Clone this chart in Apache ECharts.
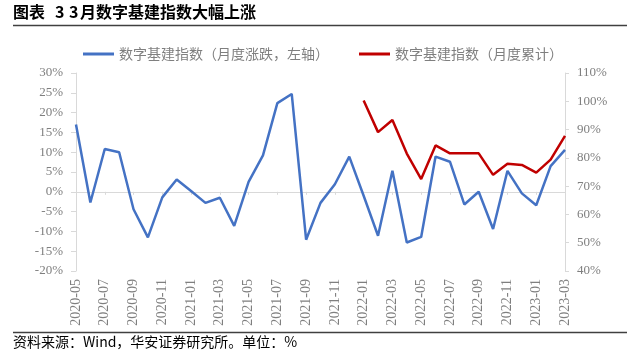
<!DOCTYPE html>
<html>
<head>
<meta charset="utf-8">
<script src="https://cdn.jsdelivr.net/npm/echarts@6/dist/echarts.min.js"></script>
<style>
html,body{margin:0;padding:0;background:#fff;}
#c{width:627px;height:358px;}
</style>
</head>
<body>
<div id="c"></div>
<script>
var categories = ['2020-05','2020-06','2020-07','2020-08','2020-09','2020-10','2020-11','2020-12',
  '2021-01','2021-02','2021-03','2021-04','2021-05','2021-06','2021-07','2021-08','2021-09','2021-10','2021-11','2021-12',
  '2022-01','2022-02','2022-03','2022-04','2022-05','2022-06','2022-07','2022-08','2022-09','2022-10','2022-11','2022-12',
  '2023-01','2023-02','2023-03'];
var monthlyChange = [17.0,-2.7,10.8,10.0,-4.4,-11.5,-1.4,3.1,
  0.2,-2.8,-1.5,-8.6,2.5,9.2,22.4,24.7,-12.1,-2.8,1.9,8.9,
  -1.0,-11.1,5.3,-12.8,-11.4,8.9,7.6,-3.2,0.0,-9.4,5.3,-0.4,
  -3.4,6.5,10.6];
var cumulative = [null,null,null,null,null,null,null,null,
  null,null,null,null,null,null,null,null,null,null,null,null,
  100.3,89.1,93.4,81.5,72.5,84.4,81.6,81.6,81.6,74.0,77.9,77.5,
  74.8,79.4,87.8];
var seriesNames = ['数字基建指数（月度涨跌，左轴）','数字基建指数（月度累计）'];

var chart = echarts.init(document.getElementById('c'), null, {renderer:'canvas'});
var serif = '"Liberation Serif","Times New Roman",serif';
var cjk = '"Noto Sans CJK SC",sans-serif';
var gray = '#7f7f7f';
var lineGray = '#d9d9d9';

chart.setOption({
  animation: false,
  backgroundColor: '#fff',
  grid: {left: 76, right: 62, top: 73, bottom: 87, containLabel: false},
  legend: {
    left: 78, top: 42,
    icon: 'rect', itemWidth: 31, itemHeight: 3, itemGap: 30,
    textStyle: {fontFamily: cjk, fontSize: 14, color: '#7f7f7f'},
    data: seriesNames
  },
  xAxis: [{
    type: 'category', data: categories, boundaryGap: false,
    axisLine: {onZero: true, onZeroAxisIndex: 0, lineStyle: {color: lineGray, width: 1}},
    axisTick: {show: true, interval: 1, length: 3, lineStyle: {color: lineGray}},
    axisLabel: {show: false},
    splitLine: {show: false}
  },{
    type: 'category', data: categories, boundaryGap: false, position: 'bottom',
    axisLine: {show: false, onZero: false},
    axisTick: {show: false},
    axisLabel: {interval: 1, rotate: 90, margin: 8, fontFamily: serif, fontSize: 14, color: gray},
    splitLine: {show: false}
  }],
  yAxis: [{
    type: 'value', min: -20, max: 30, interval: 5, position: 'left',
    axisLine: {show: true, lineStyle: {color: lineGray}},
    axisTick: {show: true, length: 5, lineStyle: {color: lineGray}},
    axisLabel: {formatter: '{value}%', margin: 13, fontFamily: serif, fontSize: 13, color: gray},
    splitLine: {show: false}
  },{
    type: 'value', min: 40, max: 110, interval: 10, position: 'right',
    axisLine: {show: true, lineStyle: {color: lineGray}},
    axisTick: {show: true, length: 4, lineStyle: {color: lineGray}},
    axisLabel: {formatter: '{value}%', margin: 12, fontFamily: serif, fontSize: 13, color: gray},
    splitLine: {show: false}
  }],
  series: [{
    name: seriesNames[0], type: 'line', xAxisIndex: 0, yAxisIndex: 0,
    data: monthlyChange, showSymbol: false, symbol: 'none',
    lineStyle: {color: '#4472C4', width: 2.5}, itemStyle: {color: '#4472C4'}
  },{
    name: seriesNames[1], type: 'line', xAxisIndex: 0, yAxisIndex: 1,
    data: cumulative, showSymbol: false, symbol: 'none', connectNulls: false,
    lineStyle: {color: '#C00000', width: 2.5}, itemStyle: {color: '#C00000'}
  }],
  graphic: [
    {type: 'text', left: 13, top: 4, style: {text: '图表', fontFamily: cjk, fontSize: 16, fontWeight: 'bold', fill: '#000'}},
    {type: 'text', left: 55, top: 4, style: {text: '3', fontFamily: cjk, fontSize: 16, fontWeight: 'bold', fill: '#000'}},
    {type: 'text', left: 69, top: 4, style: {text: '3', fontFamily: cjk, fontSize: 16, fontWeight: 'bold', fill: '#000'}},
    {type: 'text', left: 80, top: 4, style: {text: '月数字基建指数大幅上涨', fontFamily: cjk, fontSize: 16, fontWeight: 'bold', fill: '#000'}},
    {type: 'line', shape: {x1: 13, y1: 25.5, x2: 627, y2: 25.5}, style: {stroke: '#404040', lineWidth: 1.5}},
    {type: 'line', shape: {x1: 13, y1: 332.5, x2: 627, y2: 332.5}, style: {stroke: '#404040', lineWidth: 1.5}},
    {type: 'text', left: 13, top: 335, style: {text: '资料来源：Wind，华安证券研究所。单位：%', fontFamily: cjk, fontSize: 14, fill: '#000'}}
  ]
});
</script>
</body>
</html>
